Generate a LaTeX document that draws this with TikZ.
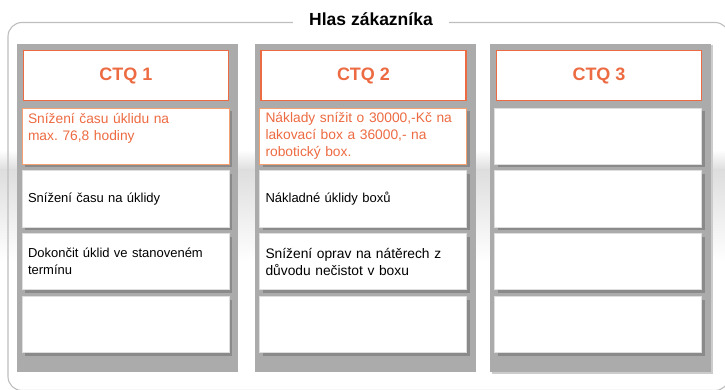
\documentclass[tikz,border=0pt]{standalone}
\usepackage{fontspec}
\setmainfont{Liberation Sans}
\usetikzlibrary{positioning, shadows}
\frenchspacing
\definecolor{ctqorange}{RGB}{237,107,66}
\definecolor{reqorange}{RGB}{246,160,112}
\definecolor{colgray}{RGB}{171,171,171}
\definecolor{shadegray}{RGB}{138,138,138}
\definecolor{framegray}{RGB}{190,190,190}
\definecolor{edgegray}{RGB}{222,222,222}
\tikzset{
  colbg/.style={rectangle, fill=colgray, minimum width=221pt, minimum height=328pt, inner sep=0pt},
  ctqhead/.style={rectangle, draw=ctqorange, line width=1.6pt, fill=white, minimum width=205pt, minimum height=50pt, text=ctqorange, font=\fontsize{18}{20}\selectfont\bfseries},
  itembox/.style={rectangle, draw=edgegray, line width=0.6pt, fill=white, minimum width=207pt, minimum height=56pt, text width=195pt, inner xsep=6pt, align=left, font=\fontsize{13}{17}\selectfont, drop shadow={shadow xshift=3pt, shadow yshift=-3pt, fill=shadegray, opacity=1}},
  reqbox/.style={itembox, draw=reqorange, text=ctqorange, font=\fontsize{13.8}{17}\selectfont},
  bigitem/.style={itembox, font=\fontsize{13.8}{17}\selectfont},
}
\begin{document}
\begin{tikzpicture}[x=1pt, y=-1pt, node distance=6.3pt]
\useasboundingbox (0,0) rectangle (725,390);
% background band
\shade[top color=white, bottom color=black!13] (0,150) rectangle (725,170);
\shade[top color=black!13, bottom color=white] (0,170) rectangle (725,262);
% frame
\draw[framegray, line width=1.1pt, rounded corners=14pt] (8,22.5) rectangle (729,390.5);
\node (title) at (371,19) [fill=white, inner xsep=16pt, font=\fontsize{17.5}{20}\selectfont\bfseries] {Hlas zákazníka};
% columns
\node (colA) at (127.5,208) [colbg] {};
\node (colB) at (365.5,208) [colbg] {};
\node (colC) at (600.5,208) [colbg, drop shadow={shadow xshift=1.5pt, shadow yshift=-1.5pt, fill=black!20, opacity=1}] {};
% CTQ 1
\node (ctqA)  at (126,75.5) [ctqhead] {CTQ 1};
\node (reqA)  [reqbox, below=of ctqA, xshift=-0.5pt] {Snížení času úklidu na\\max. 76,8 hodiny\\\mbox{}};
\node (itemA1) [itembox, below=of reqA] {Snížení času na úklidy};
\node (itemA2) [itembox, below=of itemA1] {Dokončit úklid ve stanoveném\\termínu};
\node (itemA3) [itembox, below=of itemA2] {};
% CTQ 2
\node (ctqB)  at (363.5,75.5) [ctqhead] {CTQ 2};
\node (reqB)  [reqbox, below=of ctqB, xshift=-0.5pt] {Náklady snížit o 30000,-Kč na\\lakovací box a 36000,- na\\robotický box.};
\node (itemB1) [itembox, below=of reqB] {Nákladné úklidy boxů};
\node (itemB2) [bigitem, below=of itemB1] {Snížení oprav na nátěrech z\\důvodu nečistot v boxu};
\node (itemB3) [itembox, below=of itemB2] {};
% CTQ 3
\node (ctqC)  at (599,75.5) [ctqhead] {CTQ 3};
\node (reqC)  [itembox, below=of ctqC, xshift=-1pt] {};
\node (itemC1) [itembox, below=of reqC] {};
\node (itemC2) [itembox, below=of itemC1] {};
\node (itemC3) [itembox, below=of itemC2] {};
\end{tikzpicture}
\end{document}
